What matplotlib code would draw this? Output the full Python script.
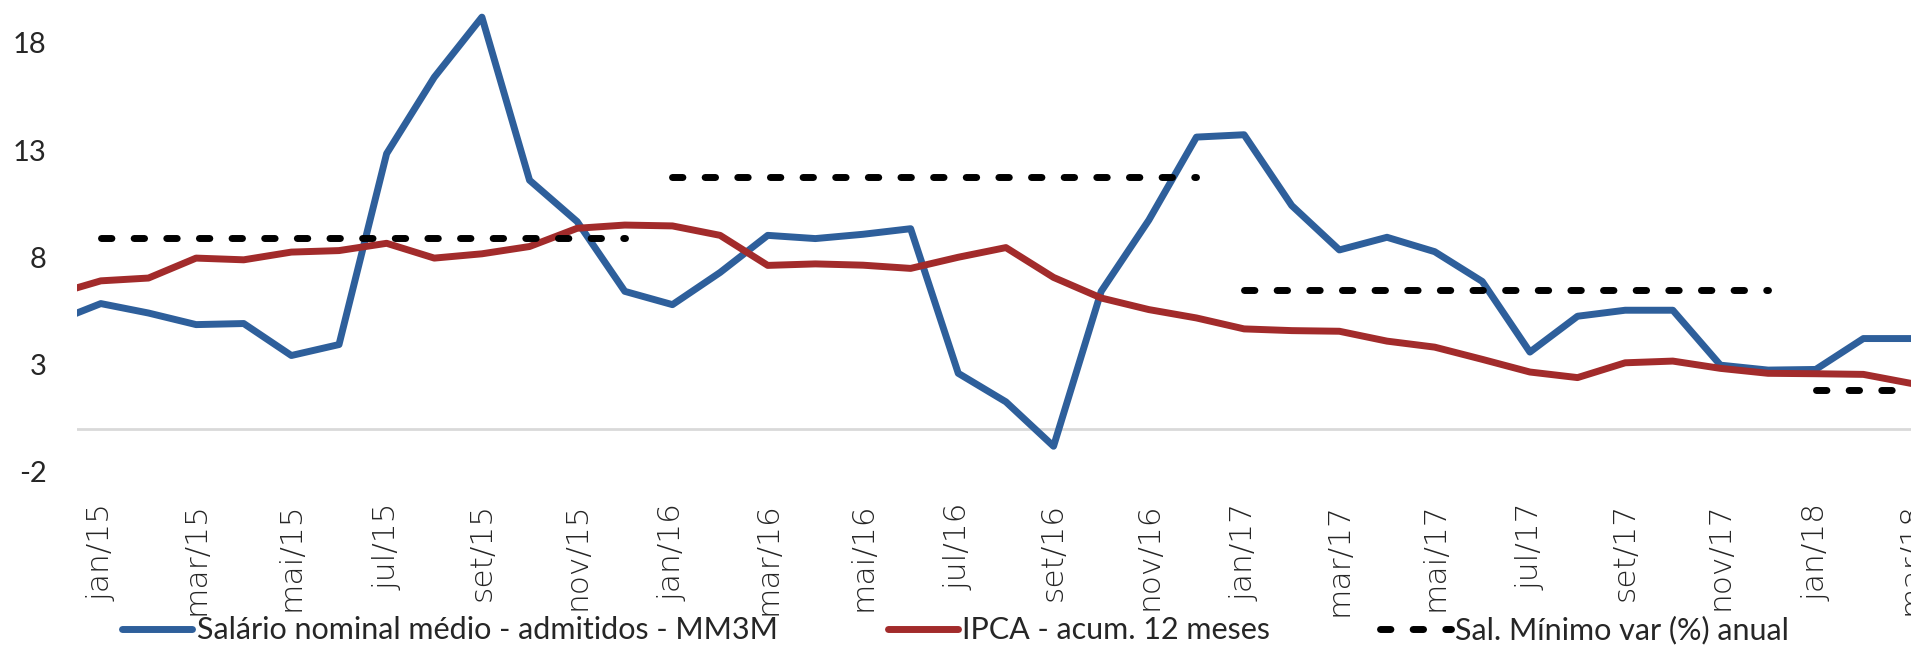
import numpy as np
import matplotlib
matplotlib.use("Agg")
import matplotlib.pyplot as plt
from matplotlib.lines import Line2D

# month labels (dez/14 is only there so the line enters from the left edge)
meses = ['dez/14',
         'jan/15', 'fev/15', 'mar/15', 'abr/15', 'mai/15', 'jun/15', 'jul/15', 'ago/15', 'set/15', 'out/15', 'nov/15', 'dez/15',
         'jan/16', 'fev/16', 'mar/16', 'abr/16', 'mai/16', 'jun/16', 'jul/16', 'ago/16', 'set/16', 'out/16', 'nov/16', 'dez/16',
         'jan/17', 'fev/17', 'mar/17', 'abr/17', 'mai/17', 'jun/17', 'jul/17', 'ago/17', 'set/17', 'out/17', 'nov/17', 'dez/17',
         'jan/18', 'fev/18', 'mar/18']

# Salario nominal medio - admitidos - MM3M
salario = [4.97,
           5.85, 5.41, 4.87, 4.92, 3.43, 3.94, 12.84, 16.4, 19.2, 11.6, 9.67, 6.42,
           5.8, 7.3, 9.03, 8.88, 9.08, 9.34, 2.6, 1.27, -0.8, 6.42, 9.74, 13.61,
           13.72, 10.42, 8.35, 8.94, 8.27, 6.88, 3.59, 5.26, 5.54, 5.54, 2.98, 2.75,
           2.78, 4.22, 4.22]

# IPCA - acum. 12 meses
ipca = [6.26,
        6.91, 7.04, 7.97, 7.89, 8.25, 8.32, 8.66, 7.97, 8.17, 8.51, 9.36, 9.51,
        9.47, 9.03, 7.63, 7.70, 7.64, 7.49, 8.01, 8.46, 7.07, 6.11, 5.57, 5.18,
        4.67, 4.59, 4.56, 4.1, 3.82, 3.25, 2.66, 2.4, 3.09, 3.17, 2.83, 2.6,
        2.58, 2.55, 2.13]

# Sal. Minimo var (%) anual
minimo_anos = ['15', '16', '17', '18']
minimo_var = [8.9, 11.75, 6.5, 1.82]

azul = '#2E5F9B'
vermelho = '#A22B2B'
texto = '#262626'

x = np.arange(len(meses)) - 1   # jan/15 = 0

fig = plt.figure(figsize=(19.11, 6.46), dpi=100)
ax = fig.add_axes([77 / 1911, 1 - 472 / 646, 1 - 77 / 1911, 472 / 646])

ax.axhline(0, color='#D9D9D9', lw=2, zorder=1)

ax.plot(x, salario, color=azul, lw=5, zorder=3)
ax.plot(x, ipca, color=vermelho, lw=5, zorder=3)

# one flat dashed segment per year
for ano, v in zip(minimo_anos, minimo_var):
    idx = [i for i, m in zip(x, meses) if m.endswith(ano) and i >= 0]
    ax.plot(idx, [v] * len(idx), color='black', lw=5, zorder=4,
            dashes=(1.5, 3.2), dash_capstyle='round')

ax.set_xlim(-0.5, 38)
ax.set_ylim(-2, 20)
ax.set_yticks([-2, 3, 8, 13, 18])
ax.set_yticklabels(['-2', '3', '8', '13', '18'], family=['Lato', 'DejaVu Sans'],
                   fontsize=21, color=texto)

pos = [i for i in x if i >= 0 and i % 2 == 0]
ax.set_xticks(pos)
ax.set_xticklabels([meses[i + 1] for i in pos], rotation=90, rotation_mode='anchor',
                   ha='right', va='center', family=['DejaVu Sans'],
                   fontweight='light', fontsize=22.5, color=texto)
ax.tick_params(axis='both', length=0)
ax.tick_params(axis='y', pad=22)
ax.tick_params(axis='x', pad=22)
for s in ax.spines.values():
    s.set_visible(False)

handles = [Line2D([], [], color=azul, lw=5, solid_capstyle='round'),
           Line2D([], [], color=vermelho, lw=5, solid_capstyle='round'),
           Line2D([], [], color='black', lw=5, dashes=(1.5, 3.2), dash_capstyle='round')]
labels = ['Salário nominal médio - admitidos - MM3M', 'IPCA - acum. 12 meses', 'Sal. Mínimo var (%) anual']
fig.legend(handles, labels, loc='center', bbox_to_anchor=(0.5, 1 - 630 / 646), ncol=3, frameon=False,
           prop={'family': ['Lato', 'DejaVu Sans'], 'size': 22},
           handlelength=2.3, handletextpad=0.15, columnspacing=3.6, labelcolor=texto,
           borderpad=0, borderaxespad=0)

fig.savefig('out.png', dpi=100, facecolor='white')
